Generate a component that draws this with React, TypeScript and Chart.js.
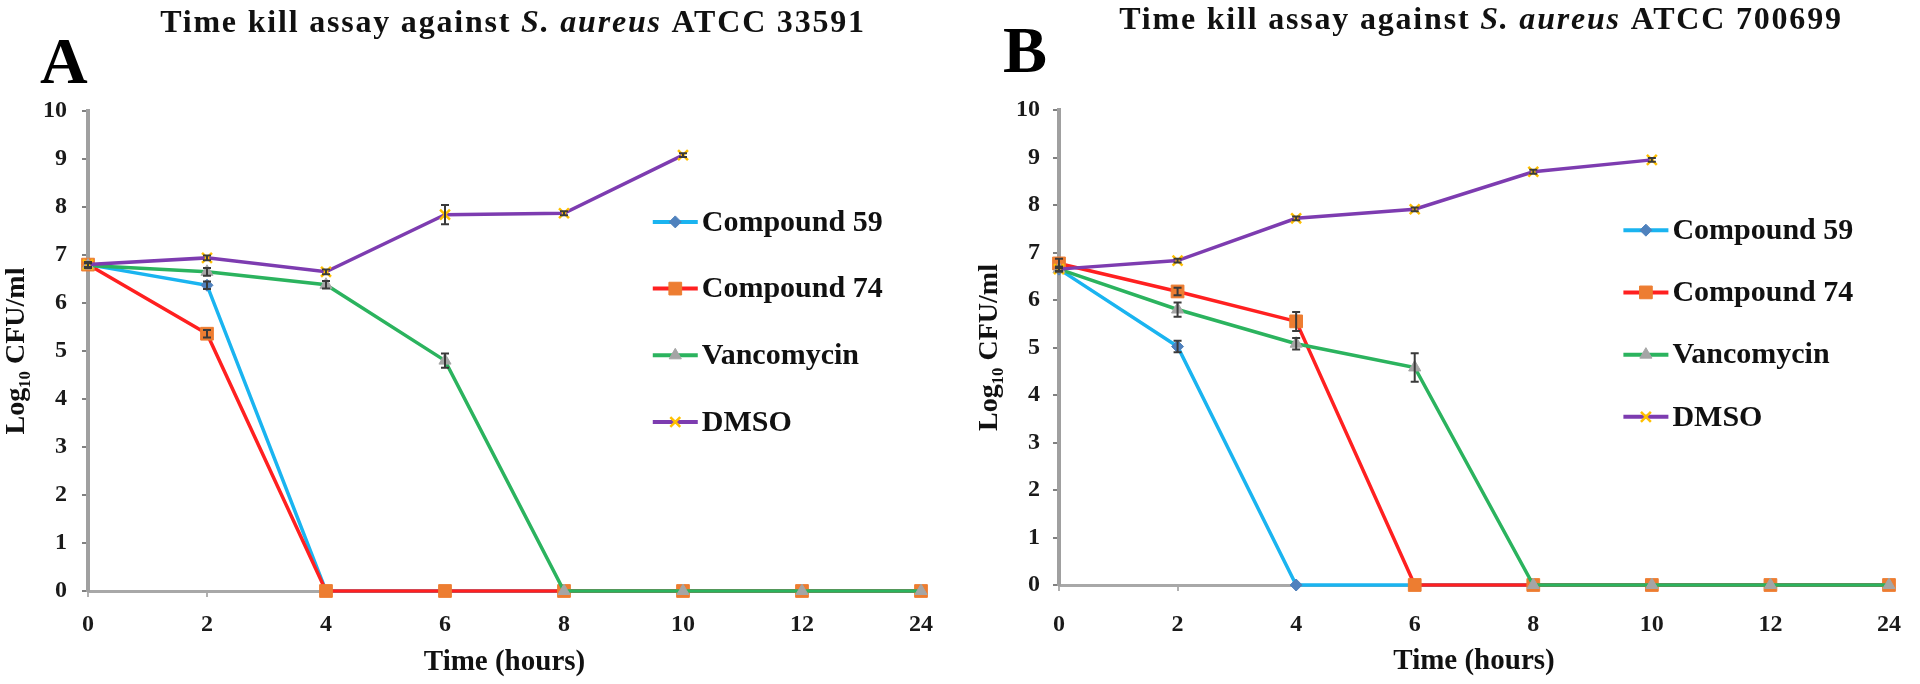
import React, { useEffect, useRef } from 'react';
import { Chart, registerables } from 'chart.js';
import { drawPoint } from 'chart.js/helpers';

Chart.register(...registerables);

// ---------- data ----------
const timeLabels = ['0', '2', '4', '6', '8', '10', '12', '24'];
const seriesNames = ['Compound 59', 'Compound 74', 'Vancomycin', 'DMSO'];

// Panel A: S. aureus ATCC 33591
const aCompound59 = [6.8, 6.37, 0, 0, 0, 0, 0, 0];
const aCompound74 = [6.8, 5.36, 0, 0, 0, 0, 0, 0];
const aVancomycin = [6.78, 6.65, 6.38, 4.8, 0, 0, 0, 0];
const aDmso = [6.8, 6.94, 6.65, 7.84, 7.87, 9.08, null, null];
const aCompound59Err = [0.05, 0.08, 0, 0, 0, 0, 0, 0];
const aCompound74Err = [0.05, 0.08, 0, 0, 0, 0, 0, 0];
const aVancomycinErr = [0.05, 0.08, 0.08, 0.15, 0, 0, 0, 0];
const aDmsoErr = [0.05, 0.05, 0.05, 0.2, 0.04, 0.04, 0, 0];

// Panel B: S. aureus ATCC 700699
const bCompound59 = [6.65, 5.02, 0, 0, 0, 0, 0, 0];
const bCompound74 = [6.77, 6.18, 5.55, 0, 0, 0, 0, 0];
const bVancomycin = [6.65, 5.8, 5.08, 4.58, 0, 0, 0, 0];
const bDmso = [6.65, 6.83, 7.72, 7.91, 8.7, 8.95, null, null];
const bCompound59Err = [0.05, 0.12, 0, 0, 0, 0, 0, 0];
const bCompound74Err = [0.1, 0.08, 0.2, 0, 0, 0, 0, 0];
const bVancomycinErr = [0.05, 0.15, 0.12, 0.3, 0, 0, 0, 0];
const bDmsoErr = [0.04, 0.04, 0.04, 0.04, 0.04, 0.04, 0, 0];

const yMin = 0;
const yMax = 10;
const yStep = 1;

const titleA = [
  { text: 'Time kill assay against ', italic: false },
  { text: 'S. aureus', italic: true },
  { text: ' ATCC 33591', italic: false },
];
const titleB = [
  { text: 'Time kill assay against ', italic: false },
  { text: 'S. aureus', italic: true },
  { text: ' ATCC 700699', italic: false },
];

// ---------- styling ----------
const SERIF = "'Liberation Serif', 'Times New Roman', serif";
const seriesStyles = [
  { line: '#1ab4f0', point: '#4f81bd', style: 'rectRot', radius: 6 },
  { line: '#ff2020', point: '#ed7d31', style: 'rect', radius: 9 },
  { line: '#2bb35e', point: '#a5a5a5', style: 'triangle', radius: 7 },
  { line: '#7d3cb0', point: '#ffc000', style: 'crossRot', radius: 7 },
];

type PanelCfg = {
  values: (number | null)[][];
  errors: number[][];
  title: { text: string; italic: boolean }[];
  letter: string;
  padding: { top: number; right: number; left: number; bottom: number };
  yWidth: number;
  xHeight: number;
  yTitlePad: number;
  xTitlePad: number;
  xTickPad: number;
  yTickPad: number;
  titleX: number;
  titleBaseline: number;
  letterX: number;
  letterBaseline: number;
  legendFx: number;
  legendFy: number;
  legendStep: number;
};

function makeDecorPlugin(cfg: PanelCfg) {
  return {
    id: 'decor',
    afterDatasetsDraw(chart: any) {
      const ctx: CanvasRenderingContext2D = chart.ctx;
      const yScale = chart.scales.y;
      ctx.save();
      // error bars
      cfg.errors.forEach((errs, i) => {
        const meta = chart.getDatasetMeta(i);
        errs.forEach((e, j) => {
          const v = cfg.values[i][j];
          if (v == null || !e) return;
          const el = meta.data[j];
          if (!el) return;
          const x = el.x;
          const y1 = yScale.getPixelForValue(v + e);
          const y2 = yScale.getPixelForValue(Math.max(0, v - e));
          ctx.strokeStyle = '#3a3a3a';
          ctx.lineWidth = 2;
          ctx.beginPath();
          ctx.moveTo(x, y1);
          ctx.lineTo(x, y2);
          ctx.moveTo(x - 4, y1);
          ctx.lineTo(x + 4, y1);
          ctx.moveTo(x - 4, y2);
          ctx.lineTo(x + 4, y2);
          ctx.stroke();
        });
      });
      ctx.restore();
    },
    afterDraw(chart: any) {
      const ctx: CanvasRenderingContext2D = chart.ctx;
      const area = chart.chartArea;
      ctx.save();
      // title
      const size = 32;
      const fontFor = (it: boolean) => `${it ? 'italic ' : ''}bold ${size}px ${SERIF}`;
      const spacing = 1.8;
      try { (ctx as any).letterSpacing = spacing + 'px'; } catch (e) {}
      let total = 0;
      cfg.title.forEach((p) => {
        ctx.font = fontFor(p.italic);
        total += ctx.measureText(p.text).width;
      });
      let x = cfg.titleX - total / 2;
      ctx.fillStyle = '#111';
      ctx.textBaseline = 'alphabetic';
      ctx.textAlign = 'left';
      cfg.title.forEach((p) => {
        ctx.font = fontFor(p.italic);
        ctx.fillText(p.text, x, cfg.titleBaseline);
        x += ctx.measureText(p.text).width;
      });
      try { (ctx as any).letterSpacing = '0px'; } catch (e) {}
      // panel letter
      ctx.font = `bold 66px ${SERIF}`;
      ctx.fillStyle = '#000';
      ctx.fillText(cfg.letter, cfg.letterX, cfg.letterBaseline);
      // legend
      const lx = area.left + cfg.legendFx * (area.right - area.left);
      chart.data.datasets.forEach((ds: any, i: number) => {
        const ly = area.top + (cfg.legendFy + i * cfg.legendStep) * (area.bottom - area.top);
        ctx.strokeStyle = ds.borderColor;
        ctx.lineWidth = 4;
        ctx.beginPath();
        ctx.moveTo(lx, ly);
        ctx.lineTo(lx + 45, ly);
        ctx.stroke();
        ctx.fillStyle = ds.pointBackgroundColor;
        ctx.strokeStyle = ds.pointBorderColor;
        ctx.lineWidth = ds.pointBorderWidth;
        drawPoint(ctx, { pointStyle: ds.pointStyle, radius: ds.pointRadius, rotation: 0, borderWidth: ds.pointBorderWidth } as any, lx + 22.5, ly);
        ctx.font = `bold 30px ${SERIF}`;
        ctx.fillStyle = '#111';
        ctx.textBaseline = 'middle';
        ctx.fillText(ds.label, lx + 49, ly + 1);
      });
      ctx.restore();
    },
  };
}

function Panel({ cfg, left }: { cfg: PanelCfg; left: number }) {
  const ref = useRef<HTMLCanvasElement>(null);
  useEffect(() => {
    const canvas = ref.current!;
    const datasets = cfg.values.map((vals, i) => {
      const s = seriesStyles[i];
      return {
        label: seriesNames[i],
        data: vals,
        borderColor: s.line,
        backgroundColor: s.line,
        borderWidth: 3.5,
        tension: 0,
        pointStyle: s.style,
        pointRadius: s.radius,
        pointBackgroundColor: s.point,
        pointBorderColor: s.point,
        pointBorderWidth: s.style === 'crossRot' ? 2.5 : 1,
        order: 3 - i,
        clip: false as any,
      };
    });
    const chart = new Chart(canvas, {
      type: 'line',
      data: { labels: timeLabels, datasets },
      options: {
        animation: false,
        responsive: false,
        devicePixelRatio: 1,
        layout: { padding: cfg.padding },
        plugins: { legend: { display: false }, tooltip: { enabled: false }, title: { display: false } },
        scales: {
          x: {
            type: 'category',
            offset: false,
            afterFit: (s: any) => { s.height = cfg.xHeight; },
            border: { display: true, color: '#a8a8a8', width: 3 },
            grid: { display: true, drawOnChartArea: false, drawTicks: true, tickLength: 6, color: '#b0b0b0', lineWidth: 2, offset: false },
            ticks: { color: '#1a1a1a', font: { family: SERIF, size: 24, weight: 'bold' }, padding: cfg.xTickPad, maxRotation: 0, autoSkip: false },
            title: { display: true, text: 'Time (hours)', color: '#111', font: { family: SERIF, size: 29, weight: 'bold' }, padding: { top: 0, bottom: cfg.xTitlePad } },
          },
          y: {
            min: yMin,
            max: yMax,
            afterFit: (s: any) => { s.width = cfg.yWidth; },
            border: { display: true, color: '#a0a0a0', width: 4 },
            grid: { display: true, drawOnChartArea: false, drawTicks: true, tickLength: 6, color: '#808080', lineWidth: 2 },
            ticks: { stepSize: yStep, color: '#1a1a1a', font: { family: SERIF, size: 24, weight: 'bold' }, padding: cfg.yTickPad },
            title: { display: true, text: 'Log\u2081\u2080 CFU/ml', color: '#111', font: { family: SERIF, size: 28, weight: 'bold' }, padding: { top: cfg.yTitlePad, bottom: 0 } },
          },
        },
      } as any,
      plugins: [makeDecorPlugin(cfg) as any],
    });
    return () => chart.destroy();
  }, []);
  return (
    <div style={{ position: 'absolute', left, top: 0, width: 960, height: 684 }}>
      <canvas ref={ref} width={960} height={684} style={{ width: 960, height: 684, display: 'block' }} />
    </div>
  );
}

const panelA: PanelCfg = {
  values: [aCompound59, aCompound74, aVancomycin, aDmso],
  errors: [aCompound59Err, aCompound74Err, aVancomycinErr, aDmsoErr],
  title: titleA,
  letter: 'A',
  padding: { top: 111, right: 39, left: 0, bottom: 0 },
  yWidth: 88,
  xHeight: 93,
  yTitlePad: 0,
  xTitlePad: 4,
  xTickPad: 13,
  yTickPad: 15,
  titleX: 513,
  titleBaseline: 32,
  letterX: 40,
  letterBaseline: 83,
  legendFx: 0.678,
  legendFy: 0.231,
  legendStep: 0.139,
};

const panelB: PanelCfg = {
  values: [bCompound59, bCompound74, bVancomycin, bDmso],
  errors: [bCompound59Err, bCompound74Err, bVancomycinErr, bDmsoErr],
  title: titleB,
  letter: 'B',
  padding: { top: 110, right: 21, left: 0, bottom: 0 },
  yWidth: 99,
  xHeight: 99,
  yTitlePad: 13,
  xTitlePad: 5,
  xTickPad: 19,
  yTickPad: 13,
  titleX: 521,
  titleBaseline: 29,
  letterX: 43,
  letterBaseline: 72,
  legendFx: 0.68,
  legendFy: 0.253,
  legendStep: 0.131,
};

export default function App() {
  return (
    <div style={{ position: 'fixed', left: 0, top: 0, width: 1920, height: 684, background: '#fff', overflow: 'hidden' }}>
      <Panel cfg={panelA} left={0} />
      <Panel cfg={panelB} left={960} />
    </div>
  );
}
